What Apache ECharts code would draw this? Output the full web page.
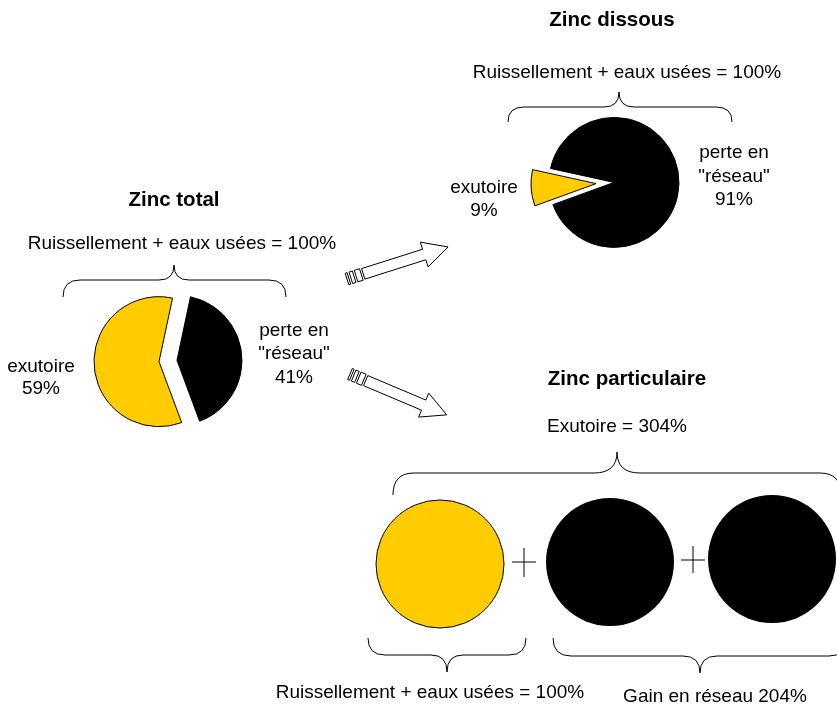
<!DOCTYPE html>
<html>
<head>
<meta charset="utf-8">
<title>Zinc</title>
<script src="https://cdn.jsdelivr.net/npm/echarts@6/dist/echarts.min.js"></script>
<style>
  html, body { margin: 0; padding: 0; background: #fff; }
  #chart { width: 837px; height: 708px; }
</style>
</head>
<body>
<div id="chart"></div>
<script>
// donnees
var totalNames = ['perte en "réseau"', 'exutoire'];
var totalValues = [41, 59];
var dissousNames = ['exutoire', 'perte en "réseau"'];
var dissousValues = [9, 91];
var partNames = ['Ruissellement + eaux usées', 'Gain en réseau'];
var partValues = [100, 204];
var gainCircles = [102, 102]; // le gain est dessine en deux disques
var exutoirePart = partValues[0] + partValues[1];

var JAUNE = '#FFCC00';
var NOIR = '#000000';
var FONT = '"Liberation Sans", Arial, sans-serif';
var FS = 19, FSB = 20.5;

function txt(s, x, y, size, bold) {
  return {
    type: 'text',
    style: {
      text: s, x: x, y: y,
      textAlign: 'center', textVerticalAlign: 'middle',
      font: (bold ? 'bold ' : '') + size + 'px ' + FONT,
      fill: '#000'
    }
  };
}

function seg(x1, y1, x2, y2) {
  return { type: 'line', shape: { x1: x1, y1: y1, x2: x2, y2: y2 },
           style: { stroke: '#000', lineWidth: 1 } };
}

function curve(x1, y1, cx, cy, x2, y2) {
  return { type: 'bezierCurve',
           shape: { x1: x1, y1: y1, x2: x2, y2: y2, cpx1: cx, cpy1: cy },
           style: { stroke: '#000', lineWidth: 1, fill: null } };
}

// accolade : extremites xa/xb, pointe xt
function brace(xa, xb, xt, yEnd, yMid, yTip, r1, r2) {
  return [
    curve(xa, yEnd, xa, yMid, xa + r1, yMid),
    seg(xa + r1, yMid, xt - r2, yMid),
    curve(xt - r2, yMid, xt, yMid, xt, yTip),
    curve(xt, yTip, xt, yMid, xt + r2, yMid),
    seg(xt + r2, yMid, xb - r1, yMid),
    curve(xb - r1, yMid, xb, yMid, xb, yEnd)
  ];
}

// fleche creuse avec les barres a la queue
function arrow(x0, y0, ang, len) {
  var a = ang * Math.PI / 180;
  var c = Math.cos(a), s = Math.sin(a);
  function p(u, v) { return [x0 + u * c - v * s, y0 + u * s + v * c]; }
  var hw = 5.5, hh = 13, hl = 25, bw = 6;
  var els = [];
  [[0, 2], [4, 7.5], [9.5, 15]].forEach(function (b) {
    els.push({ type: 'polygon',
      shape: { points: [p(b[0], -bw), p(b[1], -bw), p(b[1], bw), p(b[0], bw)] },
      style: { fill: '#fff', stroke: '#000', lineWidth: 1 } });
  });
  var base = len - hl;
  els.push({ type: 'polygon',
    shape: { points: [p(17, -hw), p(base, -hw), p(base, -hh), p(len, 0),
                      p(base, hh), p(base, hw), p(17, hw)] },
    style: { fill: '#fff', stroke: '#000', lineWidth: 1 } });
  return els;
}

function disc(name, value, color, cx, cy, border) {
  return {
    type: 'pie', silent: true, animation: false,
    center: [cx, cy], radius: [0, 64],
    label: { show: false }, labelLine: { show: false },
    emphasis: { disabled: true },
    itemStyle: { color: color, borderColor: '#000', borderWidth: border },
    data: [{ name: name, value: value }]
  };
}

var chart = echarts.init(document.getElementById('chart'));

var graphics = [];
graphics.push(txt('Zinc total', 174, 200, FSB, true));
graphics.push(txt('Ruissellement + eaux usées = 100%', 182, 244, FS));
graphics.push(txt('exutoire', 41, 367, FS));
graphics.push(txt(totalValues[1] + '%', 41, 389, FS));
graphics.push(txt('perte en', 294, 331, FS));
graphics.push(txt('"réseau"', 294, 354, FS));
graphics.push(txt(totalValues[0] + '%', 294, 378, FS));

graphics.push(txt('Zinc dissous', 612, 20, FSB, true));
graphics.push(txt('Ruissellement + eaux usées = 100%', 627, 73, FS));
graphics.push(txt('exutoire', 484, 188, FS));
graphics.push(txt(dissousValues[0] + '%', 484, 211, FS));
graphics.push(txt('perte en', 734, 153, FS));
graphics.push(txt('"réseau"', 734, 177, FS));
graphics.push(txt(dissousValues[1] + '%', 734, 200, FS));

graphics.push(txt('Zinc particulaire', 627, 379, FSB, true));
graphics.push(txt('Exutoire = ' + exutoirePart + '%', 617, 427, FS));
graphics.push(txt(partNames[0] + ' = ' + partValues[0] + '%', 430, 693, FS));
graphics.push(txt(partNames[1] + ' ' + partValues[1] + '%', 715, 697, FS));

graphics = graphics
  .concat(brace(63, 286, 174, 297, 280, 265, 17, 15))
  .concat(brace(508, 732, 619, 122, 107, 92, 16, 15))
  .concat(brace(393, 841, 617, 495, 473, 452, 21, 23))
  .concat(brace(368, 526, 447, 638, 655, 672, 17, 16))
  .concat(brace(553, 847, 700, 638, 656, 673, 18, 17))
  .concat(arrow(347, 279, -17.6, 106))
  .concat(arrow(350, 374, 22.9, 105));

// signes +
graphics.push(seg(512, 562, 536, 562), seg(524, 548, 524, 577));
graphics.push(seg(681, 560, 705, 560), seg(693, 546, 693, 573));

var option = {
  backgroundColor: '#fff',
  animation: false,
  graphic: { elements: graphics },
  series: [
    {
      name: 'Zinc total', type: 'pie', silent: true,
      center: [168, 361], radius: [0, 65],
      startAngle: 78, clockwise: true,
      selectedMode: 'multiple', selectedOffset: 9,
      label: { show: false }, labelLine: { show: false },
      emphasis: { disabled: true },
      itemStyle: { borderColor: '#000', borderWidth: 1 },
      data: [
        { name: totalNames[0], value: totalValues[0], selected: true, itemStyle: { color: NOIR } },
        { name: totalNames[1], value: totalValues[1], selected: true, itemStyle: { color: JAUNE } }
      ]
    },
    {
      name: 'Zinc dissous', type: 'pie', silent: true,
      center: [605, 183], radius: [0, 65],
      startAngle: 200, clockwise: true,
      selectedMode: 'multiple', selectedOffset: 9,
      label: { show: false }, labelLine: { show: false },
      emphasis: { disabled: true },
      itemStyle: { borderColor: '#000', borderWidth: 1 },
      data: [
        { name: dissousNames[0], value: dissousValues[0], selected: true, itemStyle: { color: JAUNE } },
        { name: dissousNames[1], value: dissousValues[1], selected: true, itemStyle: { color: NOIR } }
      ]
    },
    disc(partNames[0], partValues[0], JAUNE, 440, 564, 1),
    disc(partNames[1], gainCircles[0], NOIR, 610, 562, 0),
    disc(partNames[1], gainCircles[1], NOIR, 772, 559, 0)
  ]
};
chart.setOption(option);
</script>
</body>
</html>
